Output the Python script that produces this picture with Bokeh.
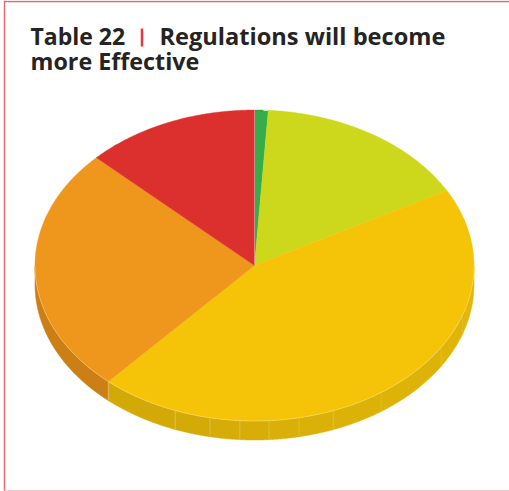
import numpy as np
from bokeh.embed import file_html
from bokeh.models import Range1d
from bokeh.plotting import figure
from bokeh.resources import INLINE

# Response shares in percent, clockwise from twelve o'clock
categories = ["Strongly agree", "Agree", "Neutral", "Disagree", "Strongly disagree"]
shares = [1.0, 16.0, 44.6, 25.6, 12.8]
top_colors = ["#35ad4a", "#cdd71c", "#f5c408", "#ef961c", "#dc302e"]
orange_wall = "#cc7f14"
yellow_wall_right = (226, 183, 9)
yellow_wall_left = (211, 169, 8)

W, H = 509, 491
CX, CY, RX, RY, DEPTH = 254.0, 265.0, 219.5, 155.5, 19
# Facet joints on the yellow part of the wall, in degrees clockwise from the top
seam_deg = [108.4, 121.8, 144.8, 159.0, 168.3, 176.2, 183.8, 191.7, 201.2]

p = figure(width=W, height=H, output_backend="svg", toolbar_location=None,
           x_range=Range1d(0, W), y_range=Range1d(H, 0), min_border=0,
           outline_line_color=None, background_fill_color="white")
p.axis.visible = False
p.grid.visible = False


def rim(t):
    return CX + RX * np.sin(t), CY - RY * np.cos(t)


def wall_patch(a, b, color):
    x, y = rim(np.linspace(a, b, 40))
    p.patch(np.concatenate([x, x[::-1]]), np.concatenate([y, y[::-1] + DEPTH]),
            fill_color=color, line_color=color, line_width=0.5)


edges = np.radians(np.concatenate([[0], np.cumsum(shares)]) * 3.6)

# Side wall: the yellow slice is faceted and darkens to the left, the orange one is plain
cuts = np.concatenate([[np.pi / 2], np.radians(seam_deg), [edges[3]]])
for k, (a, b) in enumerate(zip(cuts[:-1], cuts[1:])):
    f = k / (len(cuts) - 2)
    rgb = [int(r + (l - r) * f) for r, l in zip(yellow_wall_right, yellow_wall_left)]
    wall_patch(a, b, "#%02x%02x%02x" % tuple(rgb))
wall_patch(edges[3], 3 * np.pi / 2, orange_wall)

# Joints fade towards the right-hand side of the wall
joints = np.concatenate([np.radians(seam_deg), [edges[3]]])
for k, angle in enumerate(joints):
    xe, ye = rim(angle)
    alpha = 0.2 + 0.55 * k / (len(joints) - 1)
    p.line([xe, xe], [ye, ye + DEPTH], line_color="#efdc80", line_width=0.7, line_alpha=alpha)

# Top face of the disc
for i, color in enumerate(top_colors):
    x, y = rim(np.linspace(edges[i], edges[i + 1], 160))
    p.patch(np.concatenate([[CX], x]), np.concatenate([[CY], y]),
            fill_color=color, line_color=color, line_width=0.4)

# Pale highlight on the front rim and on the joint at twelve o'clock
x, y = rim(np.linspace(np.pi / 2, 3 * np.pi / 2, 200))
p.line(x, y, line_color="#f8e6a0", line_width=0.7, line_alpha=0.6)
x0, y0 = rim(edges[0])
p.line([CX, x0], [CY, y0], line_color="#e8b8b0", line_width=0.8, line_alpha=0.7)

# Page frame
p.line([4, 4], [0, H], line_color="#ee6a72", line_width=1.5)
p.line([4, W], [1, 1], line_color="#e8636a", line_width=1.5)
p.line([4, W], [490, 490], line_color="#f9c9cb", line_width=1)

# Heading
font = "Open Sans"
for tx, ty, label, size in [(30, 35, "Table 22", "23px"),
                            (159, 35, "Regulations will become", "23.6px"),
                            (30, 60, "more Effective", "23.3px")]:
    p.text([tx], [ty], text=[label], text_font={"value": font}, text_font_style="bold",
           text_font_size=size, text_color="#262324", text_baseline="alphabetic")
p.line([141.5, 141.5], [28, 46], line_color="#e8383f", line_width=2.5)

open("out.html", "w").write(file_html(p, INLINE))
